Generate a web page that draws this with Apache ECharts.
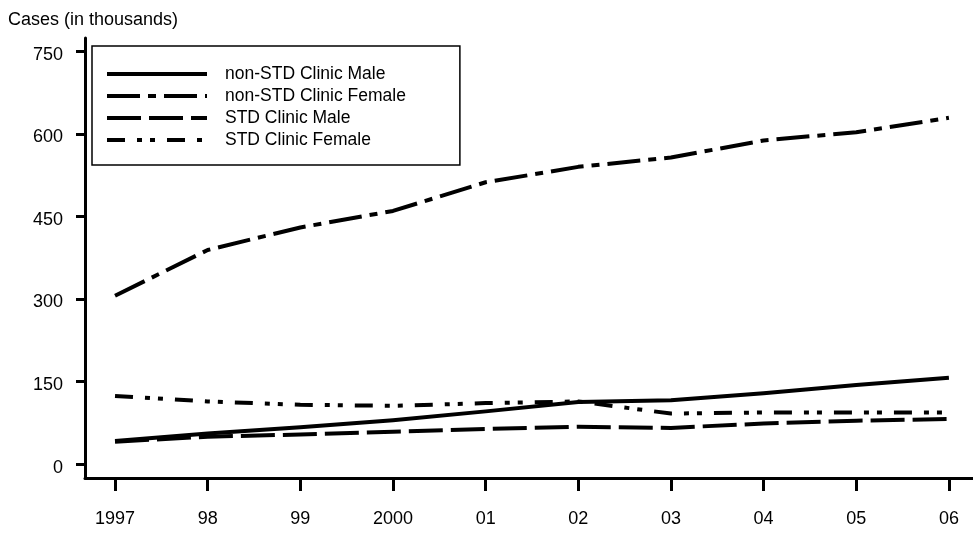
<!DOCTYPE html>
<html>
<head>
<meta charset="utf-8">
<script src="https://cdn.jsdelivr.net/npm/echarts@6/dist/echarts.min.js"></script>
<style>
  html, body { margin: 0; padding: 0; background: #fff; }
  #chart { width: 973px; height: 534px; }
</style>
</head>
<body>
<div id="chart"></div>
<script>
const years = [1997, 1998, 1999, 2000, 2001, 2002, 2003, 2004, 2005, 2006];
const yearLabels = ['1997', '98', '99', '2000', '01', '02', '03', '04', '05', '06'];
const yTicks = [0, 150, 300, 450, 600, 750];

const nonStdMale = [42, 56, 67, 80, 96, 113, 116, 129, 144, 157];
const nonStdFemale = [306, 389, 430, 460, 512, 540, 557, 588, 603, 629];
const stdMale = [41, 50, 54, 59, 64, 68, 66, 74, 79, 82];
const stdFemale = [124, 114, 108, 106, 111, 114, 92, 94, 94, 94];

const FONT = '"Liberation Sans", Arial, sans-serif';

const chart = echarts.init(document.getElementById('chart'));

const pairs = (vals) => years.map((y, i) => [y, vals[i]]);

const makeSeries = (name, vals, dash) => ({
  name,
  type: 'line',
  data: pairs(vals),
  symbol: 'none',
  lineStyle: { color: '#000', width: 4, type: dash, cap: 'butt', join: 'round' },
  itemStyle: { color: '#000' },
  emphasis: { disabled: true },
});

const option = {
  animation: false,
  title: {
    text: 'Cases (in thousands)',
    left: 8,
    top: 11,
    padding: 0,
    textStyle: { fontFamily: FONT, fontSize: 18, fontWeight: 'normal', color: '#000' },
  },
  legend: {
    orient: 'vertical',
    left: 92,
    top: 46,
    padding: [19, 54, 16, 13],
    itemWidth: 100,
    itemHeight: 14,
    itemGap: 4,
    borderColor: '#000',
    borderWidth: 1.5,
    itemStyle: { opacity: 0, borderWidth: 0 },
    lineStyle: { width: 4, color: '#000' },
    textStyle: { fontFamily: FONT, fontSize: 17.5, color: '#000', lineHeight: 18, padding: [0, 0, 0, 13] },
    data: ['non-STD Clinic Male', 'non-STD Clinic Female', 'STD Clinic Male', 'STD Clinic Female'],
  },
  grid: { left: 85, right: 0, top: 38, bottom: 56 },
  xAxis: {
    type: 'value',
    min: 1996.676,
    max: 2006.26,
    axisLine: { show: true, onZero: false, lineStyle: { color: '#000', width: 3 } },
    axisTick: { show: true, customValues: years, length: 13, lineStyle: { color: '#000', width: 3 } },
    axisLabel: {
      customValues: years,
      margin: 32,
      fontFamily: FONT,
      fontSize: 18,
      color: '#000',
      formatter: (v) => yearLabels[years.indexOf(Math.round(v))],
    },
    splitLine: { show: false },
  },
  yAxis: {
    type: 'value',
    min: -25,
    max: 774,
    axisLine: { show: true, lineStyle: { color: '#000', width: 3 } },
    axisTick: { show: true, customValues: yTicks, length: 9, lineStyle: { color: '#000', width: 3 } },
    axisLabel: {
      customValues: yTicks,
      margin: 22,
      fontFamily: FONT,
      fontSize: 18,
      color: '#000',
      formatter: (v) => '{t|' + v + '}',
      rich: {
        t: { fontFamily: FONT, fontSize: 18, color: '#000', padding: [7, 0, 0, 0] },
      },
    },
    splitLine: { show: false },
  },
  series: [
    makeSeries('non-STD Clinic Male', nonStdMale, 'solid'),
    makeSeries('non-STD Clinic Female', nonStdFemale, [33, 8, 8, 8]),
    makeSeries('STD Clinic Male', stdMale, [34, 8]),
    makeSeries('STD Clinic Female', stdFemale, [18, 12, 5, 8, 5, 12]),
  ],
};

chart.setOption(option);
</script>
</body>
</html>
